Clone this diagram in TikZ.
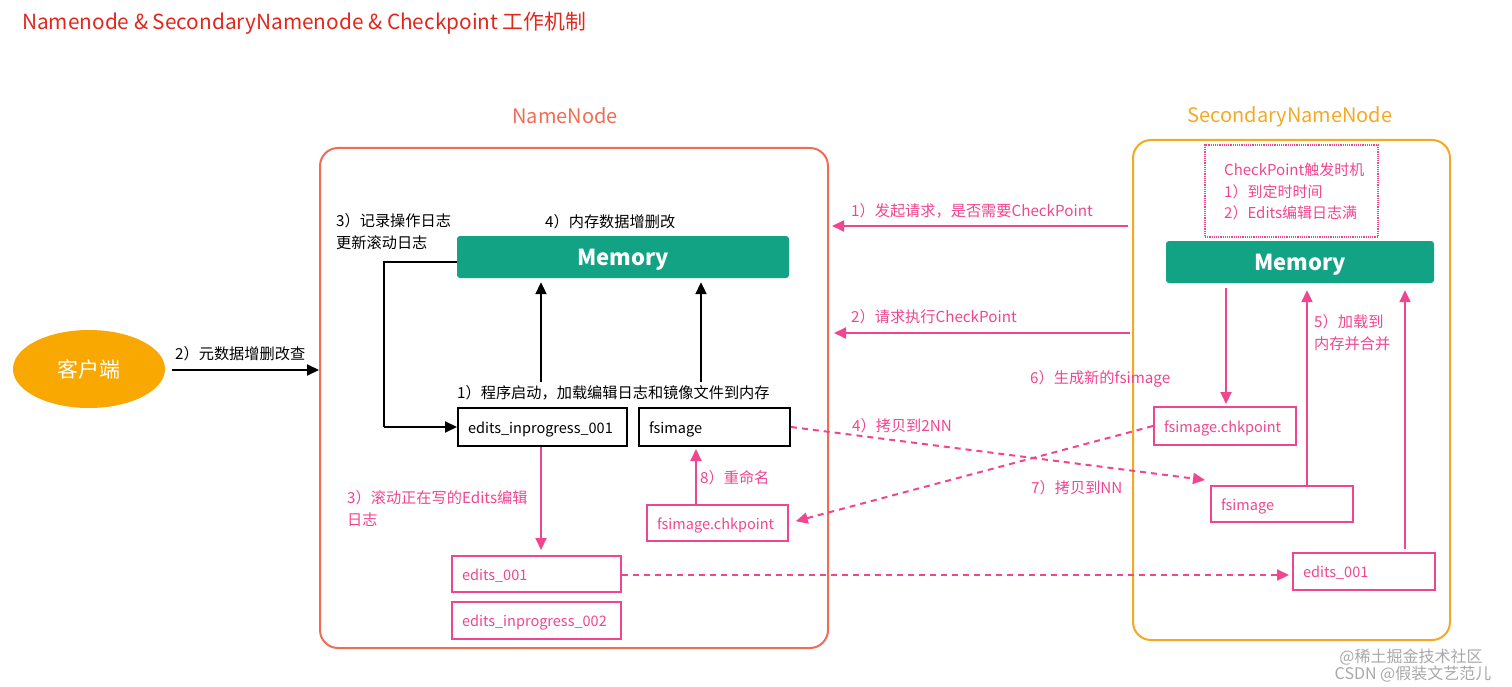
\documentclass[tikz,border=0pt]{standalone}
\usepackage{fontspec}
\setmainfont{Noto Sans CJK SC}
\usetikzlibrary{arrows.meta,shapes.geometric}
\definecolor{pinkc}{HTML}{F0458F}
\definecolor{memgreen}{HTML}{12A385}
\definecolor{nnred}{HTML}{F06C55}
\definecolor{snnorange}{HTML}{F5A823}
\definecolor{titlered}{HTML}{E3261C}
\definecolor{clientor}{HTML}{F8A800}
\definecolor{wmgray}{HTML}{A8A8A8}
\begin{document}
\begin{tikzpicture}[x=1pt,y=-1pt,
  txt/.style={anchor=west,inner sep=0pt,font=\fontsize{15.2}{22}\selectfont,align=left},
  ptxt/.style={txt,text=pinkc},
  bbox/.style={rectangle,draw=black,line width=2pt,inner xsep=10pt,inner ysep=0pt,anchor=west,
    text width=#1,align=left,font=\fontsize{14.5}{18}\selectfont,text height=15pt,text depth=2pt},
  pbox/.style={bbox=#1,draw=pinkc,text=pinkc},
  membox/.style={rectangle,fill=memgreen,rounded corners=3pt,text=white,
    font=\fontsize{22}{26}\selectfont\bfseries,minimum height=42pt,text height=17pt,text depth=0pt},
  blkarrow/.style={line width=2pt,-{Triangle[length=12pt,width=11pt]}},
  blkline/.style={line width=2pt},
  pinkarrow/.style={line width=2pt,draw=pinkc,-{Triangle[length=12pt,width=11pt]},color=pinkc},
  pinkdash/.style={pinkarrow,dash pattern=on 6pt off 5pt},
  outer/.style={rectangle,rounded corners=18pt,line width=2pt}
]
\useasboundingbox (0,0) rectangle (1512,687);

% title
\node[anchor=west,inner sep=0pt,text=titlered,font=\fontsize{20.8}{24}\selectfont] (title) at (22,23)
  {Namenode \& SecondaryNamenode \& Checkpoint 工作机制};

% big boxes
\node[outer,draw=nnred,minimum width=508pt,minimum height=500pt] (nnbox) at (574,398) {};
\node[outer,draw=snnorange,minimum width=317pt,minimum height=500pt] (snnbox) at (1291.5,390) {};
\node[inner sep=0pt,text=nnred,font=\fontsize{20}{24}\selectfont] (nnlabel) at (565,116) {NameNode};
\node[inner sep=0pt,text=snnorange,font=\fontsize{20}{24}\selectfont] (snnlabel) at (1290,117) {SecondaryNameNode};

% client
\node[ellipse,fill=clientor,minimum width=152pt,minimum height=78pt,text=white,
  font=\fontsize{21}{24}\selectfont] (client) at (89,369) {客户端};
\draw[blkarrow] ([xshift=7pt]client.east |- 0,370) -- (nnbox.west |- 0,370);
\node[txt] (l2client) at (175,354) {2）元数据增删改查};

% NameNode internals
\node[membox,minimum width=332pt] (mem) at (623,257) {Memory};
\node[txt] (l3rec) at (336,232) {3）记录操作日志\\更新滚动日志};
\node[txt] (l4mem) at (545,222) {4）内存数据增删改};
\node[txt] (l1start) at (457,393) {1）程序启动，加载编辑日志和镜像文件到内存};

\node[bbox=149pt,minimum height=38pt] (eip) at (457,427) {edits\_inprogress\_001};
\node[bbox=131pt,minimum height=38pt] (fsnn) at (638,427) {fsimage};

\draw[blkline] ([yshift=-5pt]mem.west) -- (384,262) -- (384,427);
\draw[blkarrow] (384,427) -- (eip.west);
\draw[blkarrow] (541,382) -- ([yshift=-4pt]mem.south -| 541,0);
\draw[blkarrow] (701,382) -- ([yshift=-4pt]mem.south -| 701,0);

\node[pbox=121pt,minimum height=36pt] (fchknn) at (646,523) {fsimage.chkpoint};
\node[pbox=149pt,minimum height=36pt] (e001) at (451,574) {edits\_001};
\node[pbox=149pt,minimum height=37pt] (eip2) at (451,620) {edits\_inprogress\_002};

\draw[pinkarrow,shorten >=5pt] (eip.south -| 541,0) -- (e001.north -| 541,0);
\node[ptxt] (l3roll) at (347,509) {3）滚动正在写的Edits编辑\\日志};
\draw[pinkarrow,shorten >=2pt] (fchknn.north -| 696,0) -- (fsnn.south -| 696,0);
\node[ptxt] (l8) at (700,478) {8）重命名};

% SecondaryNameNode internals
\node[draw=pinkc,densely dotted,line width=1.2pt,minimum width=173pt,minimum height=92pt] (cpbox) at (1291.5,191) {};
\node[ptxt,font=\fontsize{15}{21.5}\selectfont] (cptext) at (1224,191.5) {CheckPoint触发时机\\1）到定时时间\\2）Edits编辑日志满};
\node[membox,minimum width=268pt] (smem) at (1300,262) {Memory};

\node[pbox=122pt,minimum height=38pt] (sfchk) at (1153,426) {fsimage.chkpoint};
\node[pbox=122pt,minimum height=36pt] (sfs) at (1210,504) {fsimage};
\node[pbox=122pt,minimum height=37pt] (se001) at (1292,571) {edits\_001};

\draw[pinkarrow,shorten >=2pt] ([yshift=-5pt]smem.south -| 1226,0) -- (sfchk.north -| 1226,0);
\draw[pinkarrow,shorten >=7pt] (sfs.north -| 1307,0) -- (smem.south -| 1307,0);
\draw[pinkarrow,shorten >=7pt,shorten <=3pt] (se001.north -| 1405,0) -- (smem.south -| 1405,0);
\node[ptxt] (l5) at (1314,332.5) {5）加载到\\内存并合并};

% communication
\draw[pinkarrow,shorten >=3pt] ([xshift=-4pt]snnbox.west |- 0,226) -- (nnbox.east |- 0,226);
\node[ptxt] (l1req) at (851,211) {1）发起请求，是否需要CheckPoint};
\draw[pinkarrow,shorten >=5pt] ([xshift=-2pt]snnbox.west |- 0,333) -- (nnbox.east |- 0,333);
\node[ptxt] (l2req) at (851,317) {2）请求执行CheckPoint};
\node[ptxt] (l6) at (1030,379) {6）生成新的fsimage};

\draw[pinkdash] (fsnn.east) -- ([xshift=-5pt,yshift=5pt]sfs.north west);
\node[ptxt] (l4copy) at (852,426) {4）拷贝到2NN};
\draw[pinkdash,shorten >=7pt] (sfchk.west) -- (fchknn.east);
\node[ptxt] (l7copy) at (1031,488) {7）拷贝到NN};
\draw[pinkdash,shorten >=3pt] (e001.east |- 0,575) -- (se001.west |- 0,575);

% watermark
\node[inner sep=0pt,text=wmgray,font=\fontsize{16}{18}\selectfont] (wm1) at (1411,657) {@稀土掘金技术社区};
\node[inner sep=0pt,text=wmgray,font=\fontsize{16}{18}\selectfont] (wm2) at (1413,674) {CSDN @假装文艺范儿};
\end{tikzpicture}
\end{document}
